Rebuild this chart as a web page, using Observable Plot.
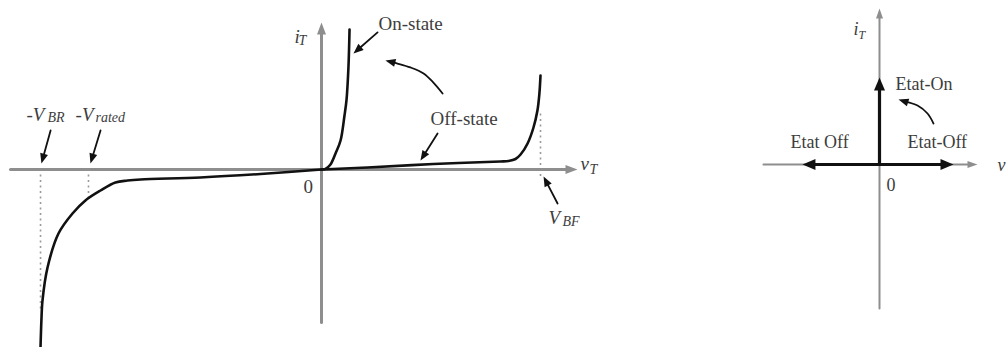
<!DOCTYPE html>
<html>
<head>
<meta charset="utf-8">
<script src="https://cdn.jsdelivr.net/npm/d3@7"></script>
<script src="https://cdn.jsdelivr.net/npm/@observablehq/plot@0.6"></script>
<style>
  html, body { margin: 0; padding: 0; background: #fff; }
  #figure { display: flex; width: 1008px; height: 347px; overflow: hidden; }
  #figure svg { flex: none; }
</style>
</head>
<body>
<div id="figure"></div>
<script>
// Thyristor static characteristic: anode voltage v_T against current i_T.
// Voltage in units of the forward breakover voltage (V_BF = 1),
// current in units of the top of the drawn on-state branch.

// Reverse blocking branch, up to avalanche at -V_BR
const reverseV = [-1.283, -1.279, -1.274, -1.251, -1.201, -1.137, -1.078, -1.009, -0.941, -0.886, -0.826, -0.553, -0.247, 0];
const reverseI = [-1.271, -1.079, -0.936, -0.700, -0.457, -0.314, -0.221, -0.150, -0.093, -0.079, -0.071, -0.057, -0.029, 0];

// Forward conduction (on-state) branch
const onV = [0, 0.018, 0.041, 0.064, 0.087, 0.105, 0.114, 0.123, 0.128];
const onI = [0, 0.005, 0.036, 0.114, 0.207, 0.386, 0.493, 0.729, 1.0];

// Forward blocking (off-state) branch, up to breakover at V_BF
const offV = [0, 0.210, 0.511, 0.817, 0.854, 0.886, 0.909, 0.941, 0.968, 0.986, 0.995, 1.0];
const offI = [0, 0.014, 0.039, 0.057, 0.061, 0.075, 0.107, 0.186, 0.300, 0.421, 0.543, 0.671];

// Characteristic voltages
const vBF = 1.0;
const vBR = -1.283;
const vRated = -1.064;

// Axis extents (left diagram)
const vAxis = [-1.420, 1.169];
const iAxis = [-1.093, 1.05];

// Annotation arrows, tail first (v, i)
const arrowOnState = [[0.256, 0.979], [0.146, 0.829]];
const arrowOffState = [[0.530, 0.257], [0.452, 0.064]];
const arrowBR = [[-1.237, 0.279], [-1.279, 0.043]];
const arrowRated = [[-1.009, 0.279], [-1.055, 0.043]];
const arrowBF = [[1.078, -0.243], [1.014, -0.050]];
const arrowSwitch = [[0.553, 0.543], [0.511, 0.621], [0.466, 0.686], [0.406, 0.729], [0.347, 0.757], [0.292, 0.779]];

// Texts of the left diagram
const leftWords = [
  {text: "On-state", v: 0.260, i: 0.993},
  {text: "Off-state", v: 0.498, i: 0.321},
  {text: "0", v: -0.082, i: -0.171}
];
const leftSymbols = [
  {text: "-V", v: -1.347, i: 0.350},
  {text: "-V", v: -1.123, i: 0.350},
  {text: "V", v: 1.037, i: -0.386},
  {text: "v", v: 1.183, i: -0.007},
  {text: "i", v: -0.123, i: 0.907}
];
const leftSubscripts = [
  {text: "BR", v: -1.251, i: 0.336},
  {text: "rated", v: -1.032, i: 0.336},
  {text: "BF", v: 1.100, i: -0.407},
  {text: "T", v: 1.224, i: -0.030},
  {text: "T", v: -0.105, i: 0.886}
];

// Simplified (ideal switch) characteristic, right diagram
const idealOn = 1.0;        // on-state current arrow
const idealOffFwd = 1.0;    // forward blocking arrow
const idealOffRev = -1.041; // reverse blocking arrow
const idealHAxis = [-1.568, 1.324];
const idealVAxis = [-1.655, 1.793];
const idealSwitch = [[0.730, 0.471], [0.649, 0.586], [0.514, 0.678], [0.257, 0.747]];

const rightWords = [
  {text: "Etat-On", v: 0.216, i: 0.851},
  {text: "Etat Off", v: -1.203, i: 0.195},
  {text: "Etat-Off", v: 0.378, i: 0.195},
  {text: "0", v: 0.095, i: -0.299}
];
const rightSymbols = [
  {text: "i", v: -0.351, i: 1.483},
  {text: "v", v: 1.595, i: -0.069}
];
const rightSubscripts = [
  {text: "T", v: -0.284, i: 1.448}
];

// ---- drawing helpers ----
const serif = "Liberation Serif, Times New Roman, serif";
const ink = "#111";
const textInk = "#3d3d3d";
const axisGrey = "#8e8e8e";

const toPts = (pairs, name) => pairs.map(([v, i]) => ({v, i, name}));
const zipPts = (vs, is, name) => vs.map((v, k) => ({v, i: is[k], name}));

// For an arrow path, returns the shaft (ending a little behind the tip) and the head.
function arrowParts(path, xs, ys, headLen) {
  const a = path[path.length - 2], b = path[path.length - 1];
  const px = xs(b.v), py = ys(b.i);
  const dx = px - xs(a.v), dy = py - ys(a.i);
  const len = Math.hypot(dx, dy);
  const back = headLen * 0.6;
  const shaftEnd = {v: xs.invert(px - dx / len * back), i: ys.invert(py - dy / len * back), name: b.name};
  return {
    shaft: [...path.slice(0, -1), shaftEnd],
    head: {v: b.v, i: b.i, angle: Math.atan2(dx, -dy) * 180 / Math.PI}
  };
}

function arrowMarks(paths, xs, ys, {stroke, strokeWidth, headLen, headR, curve = "linear"}) {
  const parts = paths.map(p => arrowParts(p, xs, ys, headLen));
  return [
    Plot.line(parts.flatMap(d => d.shaft), {x: "v", y: "i", z: "name", stroke, strokeWidth, curve}),
    Plot.vector(parts.map(d => d.head), {
      x: "v", y: "i", rotate: "angle", length: headLen, r: headR,
      shape: "spike", anchor: "end", fill: stroke, fillOpacity: 1, stroke: "none"
    })
  ];
}

function textMarks(words, symbols, subs, sizes) {
  const common = {x: "v", y: "i", text: "text", textAnchor: "start", lineAnchor: "bottom", fontFamily: serif, fill: textInk};
  return [
    Plot.text(words, {...common, fontSize: sizes[0]}),
    Plot.text(symbols, {...common, fontSize: sizes[1], fontStyle: "italic"}),
    Plot.text(subs, {...common, fontSize: sizes[2], fontStyle: "italic"})
  ];
}

// ---- left diagram: full characteristic ----
const leftXScale = {domain: [0, 1], range: [321, 540]};
const leftYScale = {domain: [0, 1], range: [169, 29]};
const lx = d3.scaleLinear(leftXScale.domain, leftXScale.range);
const ly = d3.scaleLinear(leftYScale.domain, leftYScale.range);

const leftAxes = [
  toPts([[vAxis[0], 0], [vAxis[1], 0]], "v"),
  toPts([[0, iAxis[0]], [0, iAxis[1]]], "i")
];
const leftNotes = [
  toPts(arrowOnState, "on"), toPts(arrowOffState, "off"), toPts(arrowBR, "br"),
  toPts(arrowRated, "rated"), toPts(arrowBF, "bf")
];
const guides = [
  {v: vBR, i1: 0, i2: -1.0},
  {v: vRated, i1: 0, i2: -0.21},
  {v: vBF, i1: -0.05, i2: 0.40}
];

const left = Plot.plot({
  width: 620, height: 347,
  margin: 0,
  x: {...leftXScale, axis: null},
  y: {...leftYScale, axis: null},
  marks: [
    Plot.ruleX(guides, {x: "v", y1: "i1", y2: "i2", stroke: "#9a9a9a", strokeWidth: 1.6, strokeDasharray: "2,3.5"}),
    ...arrowMarks(leftAxes, lx, ly, {stroke: axisGrey, strokeWidth: 3, headLen: 12, headR: 4.5}),
    Plot.line(zipPts(reverseV, reverseI, "rev"), {x: "v", y: "i", stroke: ink, strokeWidth: 2.6, curve: "catmull-rom"}),
    Plot.line(zipPts(onV, onI, "on"), {x: "v", y: "i", stroke: ink, strokeWidth: 2.6, curve: "catmull-rom"}),
    Plot.line(zipPts(offV, offI, "off"), {x: "v", y: "i", stroke: ink, strokeWidth: 2.6, curve: "catmull-rom"}),
    ...arrowMarks(leftNotes, lx, ly, {stroke: ink, strokeWidth: 1.8, headLen: 10, headR: 4}),
    ...arrowMarks([toPts(arrowSwitch, "switch")], lx, ly, {stroke: ink, strokeWidth: 1.8, headLen: 10, headR: 4, curve: "catmull-rom"}),
    ...textMarks(leftWords, leftSymbols, leftSubscripts, [19, 19, 14])
  ]
});

// ---- right diagram: ideal switch ----
const rightXScale = {domain: [0, 1], range: [259, 333]};
const rightYScale = {domain: [0, 1], range: [164, 77]};
const rx = d3.scaleLinear(rightXScale.domain, rightXScale.range);
const ry = d3.scaleLinear(rightYScale.domain, rightYScale.range);

const rightAxes = [
  toPts([[idealHAxis[0], 0], [idealHAxis[1], 0]], "h"),
  toPts([[0, idealVAxis[0]], [0, idealVAxis[1]]], "v")
];
const rightStates = [
  toPts([[0, 0], [0, idealOn]], "on"),
  toPts([[0, 0], [idealOffFwd, 0]], "fwd"),
  toPts([[0, 0], [idealOffRev, 0]], "rev")
];

const right = Plot.plot({
  width: 388, height: 347,
  margin: 0,
  x: {...rightXScale, axis: null},
  y: {...rightYScale, axis: null},
  marks: [
    ...arrowMarks(rightAxes, rx, ry, {stroke: axisGrey, strokeWidth: 2, headLen: 10, headR: 3.5}),
    ...arrowMarks(rightStates, rx, ry, {stroke: ink, strokeWidth: 3.2, headLen: 13, headR: 5.5}),
    ...arrowMarks([toPts(idealSwitch, "switch")], rx, ry, {stroke: ink, strokeWidth: 1.8, headLen: 10, headR: 4, curve: "catmull-rom"}),
    ...textMarks(rightWords, rightSymbols, rightSubscripts, [18, 18, 12])
  ]
});

const fig = document.getElementById("figure");
fig.append(left, right);
</script>
</body>
</html>
